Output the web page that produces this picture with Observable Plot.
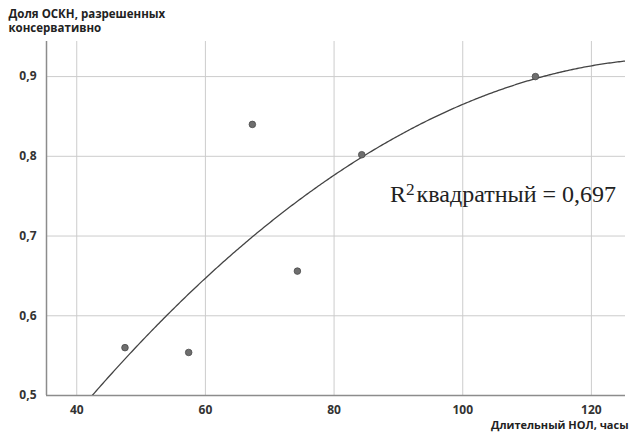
<!DOCTYPE html>
<html>
<head>
<meta charset="utf-8">
<script src="https://cdn.jsdelivr.net/npm/d3@7"></script>
<script src="https://cdn.jsdelivr.net/npm/@observablehq/plot@0.6"></script>
<style>
  body { margin: 0; background: #fff; }
  svg { display: block; }
</style>
</head>
<body>
<div id="chart"></div>
<script>
// Data
const xValues = [47.5, 57.4, 67.3, 74.3, 84.3, 111.3];   // Длительный НОЛ, часы
const yValues = [0.56, 0.554, 0.84, 0.656, 0.802, 0.90]; // Доля ОСКН, разрешенных консервативно
const xTicks = [40, 60, 80, 100, 120];
const yTicks = [0.5, 0.6, 0.7, 0.8, 0.9];
const yTitle = "Доля ОСКН, разрешенных\nконсервативно";
const xTitle = "Длительный НОЛ, часы";
const r2Parts = ["R", "2", "квадратный = 0,697"];

const points = xValues.map((x, i) => ({x, y: yValues[i]}));

// Quadratic least-squares fit of the points (the chart's fit line)
function quadFit(xs, ys) {
  const n = xs.length;
  let S = [0,0,0,0,0], T = [0,0,0];
  for (let i = 0; i < n; i++) {
    let p = 1;
    for (let k = 0; k < 5; k++) { S[k] += p; if (k < 3) T[k] += p * ys[i]; p *= xs[i]; }
  }
  const A = [[S[0],S[1],S[2],T[0]],[S[1],S[2],S[3],T[1]],[S[2],S[3],S[4],T[2]]];
  for (let c = 0; c < 3; c++) {
    for (let r = c + 1; r < 3; r++) {
      const f = A[r][c] / A[c][c];
      for (let k = c; k < 4; k++) A[r][k] -= f * A[c][k];
    }
  }
  const coef = [0,0,0];
  for (let r = 2; r >= 0; r--) {
    let s = A[r][3];
    for (let k = r + 1; k < 3; k++) s -= A[r][k] * coef[k];
    coef[r] = s / A[r][r];
  }
  return x => coef[0] + coef[1] * x + coef[2] * x * x;
}
const fit = quadFit(xValues, yValues);
const xDomain = [35.3, 125.3];
const yDomain = [0.5, 0.944];
const curve = d3.range(xDomain[0], xDomain[1] + 0.01, 0.25).map(x => ({x, y: fit(x)}));

const fmt = d => String(d.toFixed(1)).replace(".", ",");
const font = "'Open Sans', 'Noto Sans', sans-serif";

const chart = Plot.plot({
  width: 634,
  height: 434,
  marginLeft: 46,
  marginRight: 9,
  marginTop: 41,
  marginBottom: 39,
  style: {fontFamily: font, background: "#fff"},
  x: {domain: xDomain},
  y: {domain: yDomain},
  marks: [
    Plot.gridX(xTicks, {stroke: "#cccccc", strokeOpacity: 1}),
    Plot.gridY(yTicks.slice(1), {stroke: "#cccccc", strokeOpacity: 1}),
    Plot.ruleX([xDomain[0]], {stroke: "#8c8c8c", strokeWidth: 1.5}),
    Plot.ruleY([yDomain[0]], {stroke: "#8c8c8c", strokeWidth: 1.5}),
    Plot.axisX(xTicks, {tickSize: 0, tickPadding: 10, label: null, fontSize: 12, fontWeight: "bold", fill: "#333"}),
    Plot.axisY(yTicks, {tickSize: 0, tickPadding: 10, tickFormat: fmt, label: null, fontSize: 12, fontWeight: "bold", fill: "#333"}),
    Plot.line(curve, {x: "x", y: "y", stroke: "#444", strokeWidth: 1.3, clip: true}),
    Plot.dot(points, {x: "x", y: "y", r: 3.3, fill: "#6e6e6e", stroke: "#4a4a4a", strokeWidth: 0.8}),
    Plot.text([r2Parts.join("")], {x: 88.7, y: 0.752, text: d => d, textAnchor: "start", fontSize: 24, fontFamily: "'Liberation Serif', 'DejaVu Serif', serif", fill: "#222", className: "r2label"}),
    Plot.text([yTitle], {frameAnchor: "top-left", dx: -38, dy: -34, text: d => d, textAnchor: "start", lineAnchor: "top", fontSize: 11.5, fontWeight: "bold", fill: "#222", lineHeight: 1.25}),
    Plot.text([xTitle], {frameAnchor: "bottom-right", dx: 3, dy: 30, text: d => d, textAnchor: "end", lineAnchor: "middle", fontSize: 11, fontWeight: "bold", fill: "#222"})
  ]
});

// Turn the "2" into a real superscript
const t = chart.querySelector(".r2label text");
if (t) {
  t.textContent = "";
  const ns = "http://www.w3.org/2000/svg";
  const a = document.createElementNS(ns, "tspan"); a.textContent = r2Parts[0];
  const b = document.createElementNS(ns, "tspan"); b.textContent = r2Parts[1];
  b.setAttribute("dy", "-0.4em"); b.setAttribute("font-size", "0.72em");
  const c = document.createElementNS(ns, "tspan"); c.textContent = r2Parts[2];
  c.setAttribute("dy", "0.29em"); c.setAttribute("dx", "0.08em");
  t.append(a, b, c);
}
document.getElementById("chart").appendChild(chart);
</script>
</body>
</html>
